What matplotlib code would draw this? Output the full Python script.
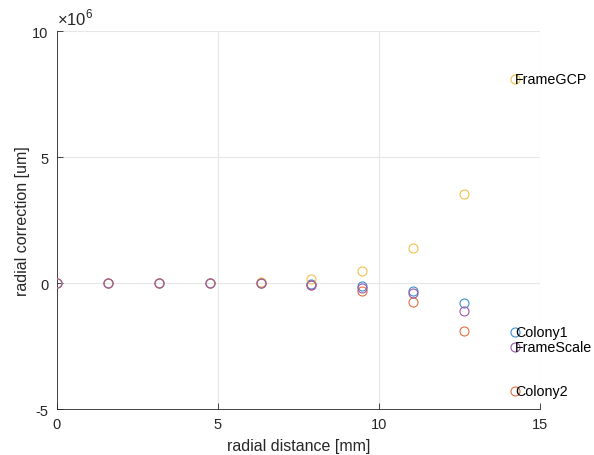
import matplotlib
matplotlib.use("Agg")
import matplotlib.pyplot as plt
from matplotlib.ticker import FuncFormatter
import numpy as np

plt.rcParams['font.family'] = ['Liberation Sans', 'DejaVu Sans']
plt.rcParams['mathtext.fontset'] = 'custom'
plt.rcParams['mathtext.rm'] = 'Liberation Sans'
plt.rcParams['axes.unicode_minus'] = False

radial_distance = [0.0, 1.58, 3.16, 4.74, 6.32, 7.90, 9.48, 11.06, 12.64, 14.22]
series_names = ["Colony1", "Colony2", "FrameGCP", "FrameScale"]
colony1 = [0, 0, 0, 0, 0.0, -0.05, -0.13, -0.32, -0.81, -1.94]
colony2 = [0, 0, 0, 0, 0.0, -0.07, -0.30, -0.75, -1.89, -4.30]
frame_gcp = [0, 0, 0, 0, 0.02, 0.14, 0.46, 1.38, 3.54, 8.08]
frame_scale = [0, 0, 0, 0, 0.0, -0.08, -0.20, -0.41, -1.13, -2.54]
scale = 1e6
colors = ["#3d8fd0", "#e0703f", "#f0c04a", "#9a58a8"]

fig = plt.figure(figsize=(5.94, 4.56), dpi=100)
ax = fig.add_axes([57/594, 1 - 410/456, (540-57)/594, (410-32)/456])

x = np.array(radial_distance)
for name, vals, c in zip(series_names, [colony1, colony2, frame_gcp, frame_scale], colors):
    y = np.array(vals) * scale
    ax.plot(x, y, linestyle='none', marker='o', markersize=6.5, markerfacecolor='none',
            markeredgecolor=c, markeredgewidth=0.8, zorder=3)
    ax.text(x[-1], y[-1], name, fontsize=10.3, color='black', ha='left', va='center', zorder=4)

ax.set_xlim(0, 15)
ax.set_ylim(-5e6, 10e6)
ax.set_xticks([0, 5, 10, 15])
ax.set_yticks([-5e6, 0, 5e6, 10e6])
ax.yaxis.set_major_formatter(FuncFormatter(lambda v, p: f"{v/scale:g}"))
ax.text(0.0, 1.01, r"$\times10^{6}$", transform=ax.transAxes, fontsize=12,
        color='#262626', ha='left', va='bottom')

ax.grid(True, color='#e6e6e6', linewidth=0.8)
ax.set_axisbelow(True)
for s in ['top', 'right']:
    ax.spines[s].set_visible(False)
for s in ['left', 'bottom']:
    ax.spines[s].set_color('#262626')
    ax.spines[s].set_linewidth(0.6)
ax.tick_params(direction='in', length=4, width=0.6, colors='#262626', labelsize=10.5)
ax.tick_params(axis='y', pad=6)
ax.tick_params(axis='x', pad=6)

ax.set_xlabel('radial distance [mm]', fontsize=11.5, color='#262626', labelpad=5)
ax.set_ylabel('radial correction [um]', fontsize=11.5, color='#262626', labelpad=2)

fig.savefig('out.png', dpi=100)
